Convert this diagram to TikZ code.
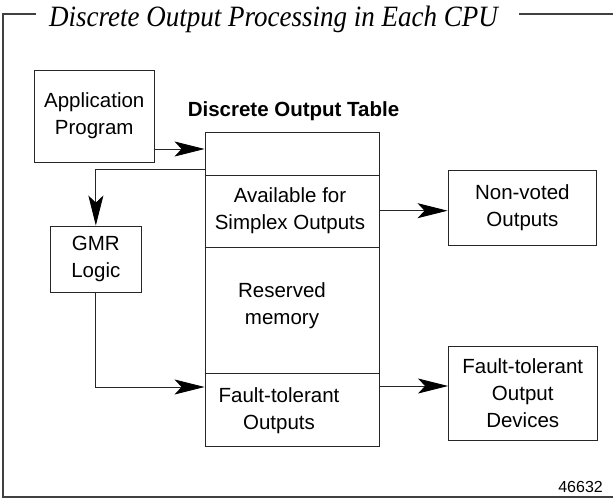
\documentclass[tikz,border=0pt]{standalone}
\usepackage{fontspec}
\setmainfont{Liberation Sans}
\newfontfamily\titleserif{Liberation Serif}
\usetikzlibrary{arrows.meta}
\begin{document}
\begin{tikzpicture}[x=1pt,y=-1pt,
  box/.style={draw=black!85, line width=0.9pt, inner sep=0pt, align=center, font=\fontsize{20.5}{27}\selectfont},
  lbl/.style={inner sep=0pt, align=center, font=\fontsize{20.5}{27}\selectfont},
  arr/.style={draw=black!85, line width=0.9pt, -{Stealth[length=30pt,width=15pt,inset=7pt,black]}},
  frame/.style={draw=black!75, line width=1.3pt},
  divider/.style={draw=black!85, line width=0.9pt}]
\useasboundingbox (0,0) rectangle (613,498);
% title and frame
\node[inner sep=0pt, anchor=base west, font=\titleserif\itshape\fontsize{29.5}{30}\selectfont] (title) at (49,26.7) {\scalebox{0.915}[1]{Discrete Output Processing in Each CPU}};
\draw[frame] (36,14) -- (3,14) -- (3,497) -- (613,497);
\draw[frame] (519,14) -- (613,14);
\node[lbl, anchor=east, font=\fontsize{16}{18}\selectfont] (num) at (603,487) {46632};
% boxes
\node[box, minimum width=119.5pt, minimum height=92pt] (app) at (94.25,116) {Application\\Program};
\node[box, minimum width=91.7pt, minimum height=66pt] (gmr) at (95.85,259) {GMR\\Logic};
\node[box, minimum width=148.7pt, minimum height=74.3pt] (nv) at (522.35,207.85) {Non-voted\\Outputs};
\node[box, minimum width=148.5pt, minimum height=93.8pt] (ftd) at (522.75,393.6) {Fault-tolerant\\Output\\Devices};
% table
\node[lbl, font=\bfseries\fontsize{20.5}{27}\selectfont] (ttl) at (293.5,110.7) {Discrete Output Table};
\node[box, minimum width=174pt, minimum height=314pt] (table) at (292,289) {};
\draw[divider] (table.west |- 0,175) -- (table.east |- 0,175);
\draw[divider] (table.west |- 0,247) -- (table.east |- 0,247);
\draw[divider] (table.west |- 0,373) -- (table.east |- 0,373);
\node[lbl] (simplex) at (290,211) {Available for\\Simplex Outputs};
\node[lbl] (reserved) at (282,306) {Reserved\\memory};
\node[lbl] (ftout) at (279,411) {Fault-tolerant\\Outputs};
% connectors
\draw[arr] (app.east |- 0,149) -- (table.west |- 0,149);
\draw[arr] (table.west |- 0,169) -| (gmr.north);
\draw[arr] (gmr.south) |- (table.west |- 0,387);
\draw[arr] (table.east |- 0,210.7) -- (nv.west |- 0,210.7);
\draw[arr] (table.east |- 0,386) -- (ftd.west |- 0,386);
\end{tikzpicture}
\end{document}
